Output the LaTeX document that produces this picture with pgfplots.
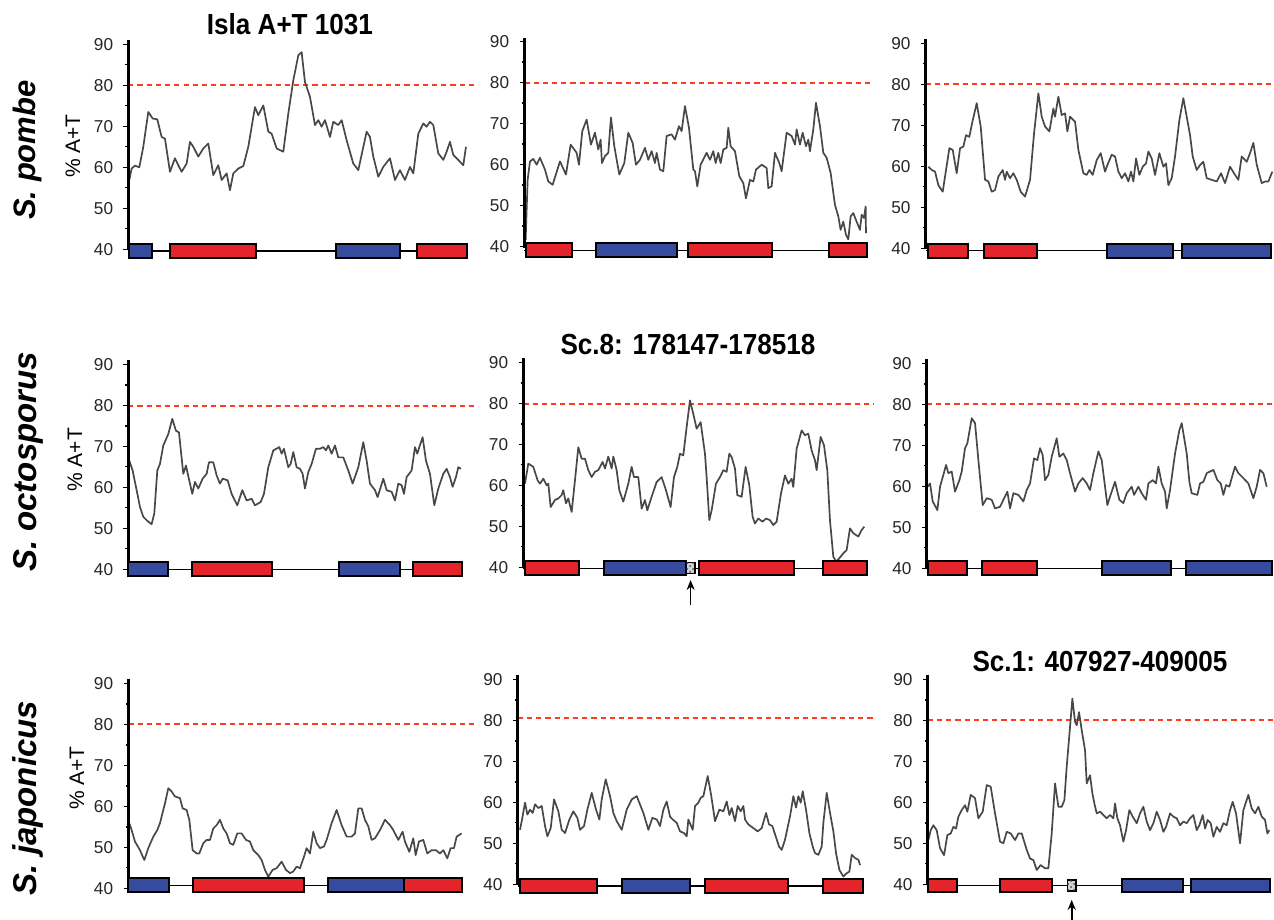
\documentclass[border=0pt]{standalone}
\usepackage{pgfplots}
\pgfplotsset{compat=1.18}
\usepackage{fontspec}
\setmainfont{Liberation Sans}
\newfontfamily\tfont[FakeStretch=0.9]{Liberation Sans}
\usetikzlibrary{arrows.meta,patterns}
\definecolor{gred}{RGB}{227,36,43}
\definecolor{gblue}{RGB}{54,74,158}
\definecolor{dred}{RGB}{250,60,35}
\definecolor{curve}{RGB}{72,72,72}

\pgfplotsset{panel/.style={
  scale only axis, width=175pt, height=104.55pt,
  xmin=0, xmax=1050, ymin=40, ymax=91,
  axis y line=left, axis x line=none,
  axis line style={line width=1.4pt, black, -},
  ytick={40,50,60,70,80,90}, minor ytick={45,55,65,75,85},
  tick align=outside, major tick length=2.4pt, minor tick length=1.4pt,
  tick style={black, line width=0.7pt},
  yticklabel style={font=\fontsize{8.6}{8.6}\selectfont, text=black!85, inner sep=0pt, xshift=-5pt},
  /pgf/number format/assume math mode=true,
  clip=false, anchor=south west,
}}
\newcommand{\gene}[5]{\addplot[fill=#1, draw=black, line width=1pt, line join=miter] coordinates {(#2,#4) (#3,#4) (#3,#5) (#2,#5) (#2,#4) (#3,#4)};}
\newcommand{\chk}[4]{\addplot[fill=gray!35, draw=black, line width=0.7pt] coordinates {(#1,#3) (#2,#3) (#2,#4) (#1,#4) (#1,#3) (#2,#3)};
\addplot[pattern=crosshatch dots, pattern color=black!70, draw=none] coordinates {(#1,#3) (#2,#3) (#2,#4) (#1,#4) (#1,#3)};}
\newcommand{\thr}[2]{\addplot[dred, line width=0.9pt, dash pattern=on 2.6pt off 2pt] coordinates {(0,#1) (#2,#1)};}
\newcommand{\base}[2]{\addplot[black, line width=0.6pt] coordinates {(0,#1) (#2,#1)};}
\newcommand{\yline}{\addplot[black, line width=1.3pt] coordinates {(0,39.8) (0,91)};}
\tikzset{cv/.style={curve, line width=0.85pt, line join=round}}
\tikzset{arr/.style={black, line width=0.8pt, -{Stealth[length=5pt, width=4pt]}}}

\begin{document}
\begin{tikzpicture}
\path[use as bounding box] (0,0) rectangle (637pt,460pt);

% ---------- Row 1 ----------
\begin{axis}[panel, at={(64.15pt,335.35pt)}]
\thr{80}{1040}
\addplot[cv] coordinates {(3,56.9)(10,59.7)(20,60.4)(33,60.0)(45,65.0)(60,73.5)(73,71.9)(87,71.7)(100,67.4)(110,67.0)(125,58.9)(140,62.2)(150,60.5)(160,58.9)(175,60.9)(185,66.2)(195,65.0)(210,62.6)(225,64.6)(240,65.8)(255,58.1)(270,60.5)(280,56.9)(295,58.5)(305,54.4)(315,58.5)(330,59.7)(345,60.3)(360,65.0)(380,74.7)(390,72.7)(405,75.1)(420,68.7)(430,68.2)(445,64.6)(465,63.8)(480,73.1)(495,81.2)(510,87.3)(520,88.1)(530,80.8)(545,77.2)(560,70.3)(570,71.5)(580,69.9)(590,71.5)(605,67.4)(615,71.1)(630,70.3)(640,71.5)(655,66.6)(675,60.9)(690,59.3)(715,68.7)(725,67.4)(735,62.6)(750,57.7)(765,60.1)(785,62.2)(800,56.9)(815,59.3)(830,56.9)(845,60.1)(855,58.5)(870,68.2)(885,70.7)(895,69.9)(905,71.1)(915,70.3)(930,63.4)(945,61.8)(955,63.8)(965,66.2)(975,63.0)(990,61.8)(1005,60.5)(1013,65.0)};
\base{39.6}{1015}
\yline
\gene{gblue}{3}{70}{37.9}{41.3}
\gene{gred}{125}{383}{37.9}{41.3}
\gene{gblue}{623}{815}{37.9}{41.3}
\gene{gred}{867}{1015}{37.9}{41.3}
\node[rotate=90, font=\bfseries\itshape\fontsize{15.5}{16}\selectfont] at (axis cs:-301,64.2) {S. pombe};
\node[rotate=90, font=\fontsize{10.5}{11}\selectfont] at (axis cs:-166,65.2) {\% A+T};
\node[font=\tfont\bfseries\fontsize{14.5}{15}\selectfont, anchor=base] at (axis cs:485,92.3) {Isla A+T 1031};
\end{axis}

\begin{axis}[panel, at={(262.15pt,336.65pt)}]
\thr{79.9}{1042}
\addplot[cv] coordinates {(4,41.6)(10,56.3)(17,60.8)(27,61.4)(37,60.0)(47,61.7)(62,58.8)(72,55.9)(85,55.1)(107,60.8)(125,57.6)(139,64.9)(157,62.9)(164,60.0)(174,68.2)(187,71.0)(200,64.9)(212,67.8)(222,63.7)(229,66.1)(233,60.4)(242,62.1)(252,62.9)(260,71.5)(270,64.5)(285,57.6)(300,60.4)(312,67.8)(325,65.3)(335,60.0)(347,61.2)(362,64.1)(372,61.2)(382,63.3)(392,60.4)(397,62.9)(407,58.8)(417,58.4)(427,67.0)(442,67.4)(452,66.1)(464,69.4)(472,68.2)(482,74.3)(494,69.0)(507,58.8)(512,58.4)(519,54.7)(529,60.0)(547,62.9)(557,61.2)(567,63.3)(574,60.4)(582,62.9)(589,60.4)(597,63.7)(607,64.1)(612,69.0)(619,64.5)(632,63.3)(645,57.2)(657,55.5)(665,51.8)(677,56.3)(687,55.9)(695,58.8)(712,60.0)(727,59.2)(732,54.3)(742,54.7)(752,62.9)(765,60.4)(772,58.4)(787,67.8)(802,67.0)(812,64.9)(817,68.6)(827,64.9)(835,67.8)(845,64.5)(852,66.1)(857,63.3)(867,68.6)(875,75.1)(887,69.4)(897,62.9)(907,61.7)(919,58.0)(932,50.2)(942,47.4)(949,44.1)(957,46.1)(965,42.9)(972,41.8)(979,47.4)(987,48.2)(997,46.1)(1007,44.1)(1012,47.8)(1019,47.0)(1024,49.8)(1025,43.3)};
\base{39.1}{1027}
\yline
\gene{gred}{4}{144}{37.4}{40.8}
\gene{gblue}{214}{457}{37.4}{40.8}
\gene{gred}{492}{744}{37.4}{40.8}
\gene{gred}{914}{1027}{37.4}{40.8}
\end{axis}

\begin{axis}[panel, at={(462.85pt,335.85pt)}]
\thr{80}{1045}
\addplot[cv] coordinates {(8,59.9)(18,59.1)(28,58.7)(38,55.4)(51,53.8)(58,57.5)(71,64.4)(81,64.0)(93,58.3)(103,64.4)(113,64.8)(121,67.6)(131,67.2)(138,70.1)(153,75.4)(165,69.7)(178,56.7)(188,56.3)(198,53.8)(208,54.2)(218,57.5)(231,59.1)(238,56.7)(243,58.7)(253,57.1)(263,58.3)(273,56.7)(285,53.8)(298,52.6)(313,56.7)(325,68.0)(338,77.8)(348,72.1)(358,69.7)(371,68.5)(383,74.1)(388,72.1)(398,77.0)(408,72.5)(418,72.9)(425,68.5)(433,72.1)(448,70.9)(458,64.0)(473,58.3)(483,57.9)(491,59.1)(501,57.9)(513,61.5)(525,63.2)(538,58.7)(545,60.3)(558,62.8)(568,62.4)(578,58.7)(588,57.1)(598,58.3)(608,56.3)(616,58.7)(623,56.3)(631,61.9)(641,57.9)(651,59.9)(661,60.7)(668,63.6)(678,61.9)(688,57.9)(701,63.2)(713,59.9)(721,60.7)(728,55.4)(738,57.1)(748,62.4)(761,71.3)(773,76.6)(793,67.6)(801,62.4)(813,59.1)(823,60.3)(833,61.1)(843,57.1)(858,56.7)(873,56.3)(886,58.3)(898,55.9)(913,59.9)(928,57.9)(938,56.7)(948,62.4)(963,61.1)(973,63.2)(983,65.7)(993,60.4)(1008,55.9)(1018,56.3)(1028,56.3)(1040,58.7)};
\base{39.4}{1036}
\yline
\gene{gred}{8}{128}{37.7}{41.1}
\gene{gred}{176}{333}{37.7}{41.1}
\gene{gblue}{545}{743}{37.7}{41.1}
\gene{gblue}{770}{1036}{37.7}{41.1}
\end{axis}

% ---------- Row 2 ----------
\begin{axis}[panel, at={(64.15pt,175.35pt)}]
\thr{79.9}{1040}
\addplot[cv] coordinates {(3,66.5)(13,64.1)(25,59.3)(35,55.2)(45,52.8)(60,51.6)(70,51.0)(78,53.6)(87,64.1)(95,65.7)(105,70.2)(120,73.0)(132,76.7)(143,73.8)(152,73.4)(165,63.3)(173,65.3)(185,60.9)(192,58.4)(200,61.3)(210,59.7)(223,62.1)(235,63.3)(242,66.1)(255,66.1)(265,62.9)(275,60.9)(283,62.1)(298,61.7)(310,58.4)(327,55.6)(342,59.3)(355,56.8)(370,57.2)(380,55.6)(397,56.4)(407,58.4)(420,64.9)(435,69.0)(453,69.8)(460,68.2)(467,69.4)(480,64.9)(487,65.7)(495,68.6)(505,64.9)(515,64.5)(523,63.3)(530,59.7)(540,63.7)(550,65.7)(563,69.4)(575,69.4)(585,69.8)(593,69.0)(600,70.2)(610,68.2)(620,70.2)(630,67.3)(645,67.3)(660,64.1)(673,60.9)(690,64.9)(705,71.0)(715,66.5)(725,60.9)(740,59.3)(748,57.6)(765,62.1)(775,59.3)(790,58.9)(800,56.8)(810,60.9)(820,60.5)(827,58.4)(835,62.5)(850,64.1)(860,69.8)(867,68.2)(873,69.8)(883,72.2)(893,66.5)(905,63.3)(918,55.6)(930,59.7)(945,63.3)(955,64.5)(965,62.5)(973,60.1)(983,62.5)(990,64.9)(998,64.5)};
\base{40.0}{1000}
\yline
\gene{gblue}{0}{120}{38.3}{41.7}
\gene{gred}{190}{430}{38.3}{41.7}
\gene{gblue}{633}{815}{38.3}{41.7}
\gene{gred}{853}{1000}{38.3}{41.7}
\node[rotate=90, font=\bfseries\itshape\fontsize{16.5}{17}\selectfont] at (axis cs:-301,66.2) {S. octosporus};
\node[rotate=90, font=\fontsize{10.5}{11}\selectfont] at (axis cs:-160,66.7) {\% A+T};
\end{axis}

\begin{axis}[panel, at={(261.65pt,176.35pt)}]
\thr{79.9}{1050}
\addplot[cv] coordinates {(5,60.4)(15,65.3)(30,64.5)(43,61.2)(50,60.4)(60,61.6)(70,60.0)(75,60.4)(82,54.7)(95,56.4)(105,56.8)(115,57.6)(120,58.8)(128,55.6)(135,56.8)(145,53.5)(155,61.2)(165,69.3)(175,66.5)(185,66.5)(195,63.7)(205,62.0)(215,63.3)(225,63.7)(238,65.7)(245,64.1)(255,67.0)(265,64.1)(270,67.0)(280,63.7)(288,58.8)(300,56.0)(315,60.4)(325,64.5)(332,62.0)(345,62.0)(355,54.3)(365,56.4)(372,53.9)(385,57.2)(400,60.8)(415,62.0)(428,58.8)(442,54.7)(452,62.0)(462,64.5)(470,67.7)(480,67.3)(490,74.2)(500,80.7)(510,77.4)(520,73.8)(532,75.4)(545,67.7)(550,62.0)(558,51.5)(565,53.9)(578,60.4)(590,62.0)(600,63.7)(610,63.3)(618,67.7)(625,66.9)(635,64.1)(642,57.6)(655,57.2)(667,64.5)(678,60.0)(688,52.3)(695,50.7)(705,51.9)(718,51.1)(728,51.9)(740,51.5)(750,50.3)(760,51.1)(773,58.0)(785,62.4)(795,60.4)(805,61.6)(810,59.6)(820,68.9)(835,73.4)(845,72.2)(855,72.6)(865,68.5)(875,66.1)(880,63.7)(892,71.8)(902,69.8)(912,63.7)(920,51.5)(930,42.6)(938,41.4)(948,42.2)(960,43.4)(970,44.2)(980,49.5)(990,48.3)(1005,47.5)(1015,49.1)(1023,49.9)};
\base{39.8}{1030}
\yline
\gene{gred}{5}{168}{38.1}{41.5}
\gene{gblue}{243}{488}{38.1}{41.5}
\chk{490}{515}{38.5}{41.1}
\gene{gred}{528}{813}{38.1}{41.5}
\gene{gred}{900}{1030}{38.1}{41.5}
\addplot[arr] coordinates {(502,30.8) (502,36.9)};
\node[font=\tfont\bfseries\fontsize{14.5}{15}\selectfont, anchor=base] at (axis cs:494,91.8) {Sc.8: 178147-178518};
\end{axis}

\begin{axis}[panel, at={(463.35pt,175.85pt)}]
\thr{80}{1045}
\addplot[cv] coordinates {(3,59.9)(10,60.7)(18,56.3)(32,54.2)(40,59.9)(50,62.8)(58,65.2)(65,63.2)(75,63.6)(85,58.7)(98,61.5)(105,63.6)(115,69.3)(122,70.5)(135,76.6)(145,75.4)(155,66.4)(168,55.4)(180,57.1)(195,56.7)(205,54.6)(220,55.0)(230,56.7)(242,58.7)(250,54.6)(260,58.3)(275,57.9)(290,56.3)(300,59.1)(310,60.7)(322,66.8)(332,66.4)(340,69.3)(348,67.6)(355,61.5)(365,62.8)(375,67.2)(390,71.7)(398,67.2)(410,68.0)(420,66.4)(430,63.2)(445,58.7)(455,60.7)(468,62.0)(480,60.7)(490,59.1)(500,63.2)(515,68.5)(525,66.4)(535,59.9)(542,55.4)(550,57.5)(565,61.1)(578,56.7)(590,55.9)(600,58.3)(615,59.9)(622,57.9)(635,59.9)(645,58.3)(658,56.7)(665,60.7)(678,61.5)(688,60.7)(695,64.8)(705,60.7)(715,58.7)(720,54.6)(730,59.1)(745,68.0)(758,73.7)(765,75.4)(780,68.0)(788,61.1)(795,58.3)(812,57.9)(820,60.7)(830,61.1)(840,63.2)(850,63.6)(860,64.0)(872,61.5)(882,60.7)(890,57.9)(898,60.3)(908,59.9)(915,62.0)(925,64.8)(935,63.2)(950,62.0)(965,60.7)(980,57.1)(990,59.9)(1000,64.0)(1010,63.2)(1020,59.9)};
\base{40.0}{1035}
\yline
\gene{gred}{3}{122}{38.3}{41.7}
\gene{gred}{165}{330}{38.3}{41.7}
\gene{gblue}{527}{733}{38.3}{41.7}
\gene{gblue}{777}{1035}{38.3}{41.7}
\end{axis}

% ---------- Row 3 ----------
\begin{axis}[panel, at={(64.15pt,15.85pt)}]
\thr{80}{1040}
\addplot[cv] coordinates {(3,55.9)(10,54.2)(20,51.4)(35,49.3)(48,46.9)(60,49.8)(75,52.6)(87,54.2)(95,55.9)(110,60.7)(120,64.4)(130,63.6)(140,62.4)(155,62.0)(163,59.5)(175,59.1)(183,56.7)(193,49.3)(205,48.5)(213,48.5)(225,51.0)(235,51.8)(245,51.8)(255,54.6)(265,55.4)(275,56.7)(285,54.6)(295,53.4)(305,51.0)(315,50.6)(327,53.4)(340,53.4)(353,51.8)(365,51.4)(375,49.3)(390,48.1)(400,46.9)(410,44.5)(420,42.8)(433,44.5)(445,44.9)(460,46.5)(473,44.5)(485,43.7)(495,44.1)(505,45.3)(515,44.9)(527,47.7)(535,49.8)(545,48.5)(555,53.8)(565,51.0)(575,49.8)(587,50.2)(595,51.8)(610,55.9)(625,59.1)(640,55.4)(655,52.6)(670,52.6)(680,53.4)(690,59.5)(700,59.5)(710,56.7)(720,55.1)(730,51.8)(740,52.2)(755,54.2)(770,56.7)(785,55.4)(795,54.2)(810,51.8)(823,53.8)(830,51.4)(843,48.9)(855,52.2)(862,48.1)(872,51.4)(885,51.8)(897,48.5)(910,49.3)(923,49.3)(935,48.5)(945,49.3)(957,47.3)(967,49.8)(977,49.8)(985,52.6)(1000,53.4)};
\base{40.7}{1000}
\yline
\gene{gblue}{0}{122}{39.0}{42.4}
\gene{gred}{195}{527}{39.0}{42.4}
\gene{gblue}{600}{827}{39.0}{42.4}
\gene{gred}{827}{1000}{39.0}{42.4}
\node[rotate=90, font=\bfseries\itshape\fontsize{16.5}{17}\selectfont] at (axis cs:-301,62.0) {S. japonicus};
\node[rotate=90, font=\fontsize{10.5}{11}\selectfont] at (axis cs:-154,66.9) {\% A+T};
\end{axis}

\begin{axis}[panel, at={(258.85pt,17.85pt)}]
\thr{80.6}{1067}
\addplot[cv] coordinates {(7,53.3)(12,55.4)(22,59.9)(29,57.0)(37,58.2)(45,57.4)(52,59.5)(62,58.6)(72,59.1)(82,54.2)(89,51.7)(99,53.7)(109,60.7)(122,57.8)(132,53.3)(142,52.5)(155,55.8)(167,57.8)(179,56.2)(187,53.3)(199,54.2)(209,58.2)(222,62.3)(235,58.2)(245,55.8)(252,60.7)(264,65.6)(277,61.5)(287,57.4)(297,55.4)(312,53.3)(327,58.2)(342,60.7)(357,61.5)(377,57.4)(392,53.3)(404,56.2)(417,55.8)(427,54.2)(437,58.2)(447,60.2)(457,56.5)(465,55.8)(477,55.0)(487,52.9)(499,52.5)(507,51.7)(512,55.8)(525,53.3)(532,59.1)(542,59.9)(549,61.1)(557,61.5)(570,66.4)(580,61.9)(592,55.4)(605,58.2)(617,57.8)(627,60.2)(635,56.9)(642,58.6)(652,55.4)(660,59.1)(669,57.8)(677,59.1)(682,55.8)(692,54.6)(707,53.7)(720,52.9)(732,53.7)(745,57.4)(754,54.6)(764,54.2)(774,51.7)(784,49.2)(792,48.4)(802,50.9)(817,56.6)(827,61.5)(835,58.7)(842,61.5)(849,59.9)(855,62.7)(865,58.2)(875,52.5)(885,49.2)(892,47.6)(902,47.2)(912,49.2)(917,55.0)(927,62.3)(937,57.4)(947,52.9)(955,47.6)(965,43.5)(977,41.9)(987,42.7)(995,43.1)(1002,47.2)(1012,46.4)(1022,46.0)(1027,44.7)};
\base{39.6}{1035}
\yline
\gene{gred}{7}{239}{37.9}{41.3}
\gene{gblue}{312}{517}{37.9}{41.3}
\gene{gred}{562}{812}{37.9}{41.3}
\gene{gred}{917}{1035}{37.9}{41.3}
\end{axis}

\begin{axis}[panel, at={(463.85pt,17.85pt)}]
\thr{80}{1040}
\addplot[cv] coordinates {(2,50.8)(9,53.2)(17,54.4)(27,53.2)(37,48.8)(49,47.1)(59,52.0)(69,52.4)(77,54.0)(85,53.6)(92,56.5)(102,58.1)(112,59.3)(119,57.7)(129,61.8)(142,61.0)(152,56.1)(165,57.7)(177,64.2)(189,63.8)(202,57.3)(217,50.4)(227,50.0)(237,52.8)(249,52.4)(262,50.8)(272,52.4)(282,52.4)(297,48.4)(307,46.3)(317,45.9)(327,43.5)(339,44.7)(352,43.9)(362,43.9)(372,52.4)(382,64.6)(392,58.9)(402,58.9)(410,60.5)(417,68.7)(427,78.4)(434,85.3)(442,79.6)(447,78.8)(454,82.0)(462,77.6)(472,72.7)(477,64.6)(487,66.6)(494,62.2)(500,59.7)(507,57.3)(517,57.7)(527,56.9)(537,56.1)(547,56.9)(557,56.1)(562,59.7)(569,56.1)(577,54.4)(587,50.4)(595,53.2)(605,58.1)(615,56.5)(627,54.9)(637,57.3)(647,58.9)(657,55.3)(667,53.2)(677,54.9)(687,57.7)(697,55.7)(707,52.8)(715,54.0)(727,57.3)(737,56.5)(747,56.1)(757,54.4)(767,55.3)(777,54.9)(787,56.1)(797,56.9)(807,53.2)(815,54.4)(825,56.9)(832,53.6)(840,55.7)(849,54.9)(857,51.6)(867,54.0)(877,52.8)(887,54.9)(897,54.4)(907,58.1)(915,60.1)(925,57.3)(937,50.0)(947,58.1)(962,61.8)(972,58.5)(982,57.3)(992,58.9)(1002,56.5)(1012,55.7)(1019,52.4)(1025,53.2)};
\base{39.7}{1027}
\yline
\gene{gred}{0}{87}{38.0}{41.4}
\gene{gred}{217}{372}{38.0}{41.4}
\chk{419}{445}{38.4}{41.0}
\gene{gblue}{584}{767}{38.0}{41.4}
\gene{gblue}{790}{1027}{38.0}{41.4}
\addplot[arr] coordinates {(432,31.0) (432,36.2)};
\node[font=\tfont\bfseries\fontsize{14.5}{15}\selectfont, anchor=base] at (axis cs:517,91.8) {Sc.1: 407927-409005};
\end{axis}
\end{tikzpicture}
\end{document}
